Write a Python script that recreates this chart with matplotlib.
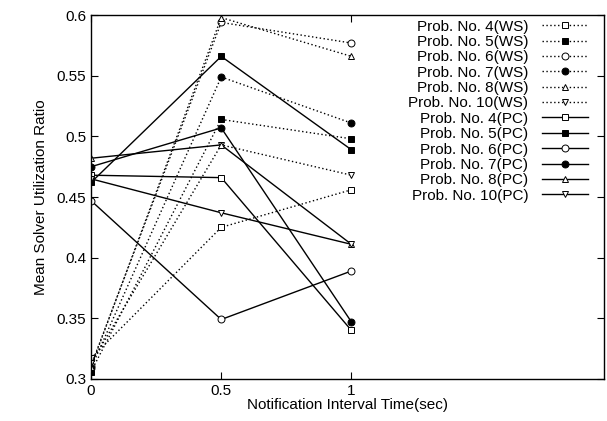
import matplotlib
matplotlib.use("Agg")
import matplotlib.pyplot as plt

plt.rcParams['font.family'] = ['Liberation Sans', 'DejaVu Sans']

x_times = [0, 0.5, 1]

ws_labels = ["Prob. No. 4(WS)", "Prob. No. 5(WS)", "Prob. No. 6(WS)",
             "Prob. No. 7(WS)", "Prob. No. 8(WS)", "Prob. No. 10(WS)"]
pc_labels = ["Prob. No. 4(PC)", "Prob. No. 5(PC)", "Prob. No. 6(PC)",
             "Prob. No. 7(PC)", "Prob. No. 8(PC)", "Prob. No. 10(PC)"]

ws4 = [0.317, 0.425, 0.456]
ws5 = [0.306, 0.514, 0.498]
ws6 = [0.311, 0.594, 0.577]
ws7 = [0.309, 0.549, 0.511]
ws8 = [0.310, 0.598, 0.566]
ws10 = [0.313, 0.493, 0.468]

pc4 = [0.468, 0.466, 0.340]
pc5 = [0.462, 0.566, 0.489]
pc6 = [0.447, 0.349, 0.389]
pc7 = [0.475, 0.507, 0.347]
pc8 = [0.482, 0.493, 0.411]
pc10 = [0.465, 0.437, 0.411]

ws_series = [ws4, ws5, ws6, ws7, ws8, ws10]
pc_series = [pc4, pc5, pc6, pc7, pc8, pc10]

markers = ['s', 's', 'o', 'o', '^', 'v']
filled = [False, True, False, True, False, False]

fig = plt.figure(figsize=(6.07, 4.21), dpi=100)
ax = fig.add_axes([0.150, 0.100, 0.845, 0.864])

for vals, lab, m, f in zip(ws_series, ws_labels, markers, filled):
    ax.plot(x_times, vals, linestyle=(0, (1, 1.8)), color='black', linewidth=1.0,
            marker=m, markersize=5, markerfacecolor='black' if f else 'white',
            markeredgecolor='black', markeredgewidth=0.7, label=lab)

for vals, lab, m, f in zip(pc_series, pc_labels, markers, filled):
    ax.plot(x_times, vals, linestyle='-', color='black', linewidth=1.0,
            marker=m, markersize=5, markerfacecolor='black' if f else 'white',
            markeredgecolor='black', markeredgewidth=0.7, label=lab)

ax.set_xlim(0, 1.97)
ax.set_ylim(0.3, 0.6)
ax.set_xticks([0, 0.5, 1])
ax.set_xticklabels(['0', '0.5', '1'])
ax.set_yticks([0.3, 0.35, 0.4, 0.45, 0.5, 0.55, 0.6])
ax.set_yticklabels(['0.3', '0.35', '0.4', '0.45', '0.5', '0.55', '0.6'])
ax.tick_params(direction='in', top=True, right=True, labelsize=11, length=5, width=0.8)
for s in ax.spines.values():
    s.set_linewidth(1.0)

ax.set_xlabel("Notification Interval Time(sec)", fontsize=11, labelpad=0)
ax.set_ylabel("Mean Solver Utilization Ratio", fontsize=11, labelpad=6)

leg = ax.legend(loc='upper right', bbox_to_anchor=(0.969, 0.988), frameon=False,
                markerfirst=False, fontsize=11, handlelength=3.0, handletextpad=0.9,
                labelspacing=0.09, borderpad=0.0, borderaxespad=0.0)
for t in leg.get_texts():
    t.set_ha('right')
leg._legend_box.align = 'right'

fig.savefig("out.png", dpi=100)
